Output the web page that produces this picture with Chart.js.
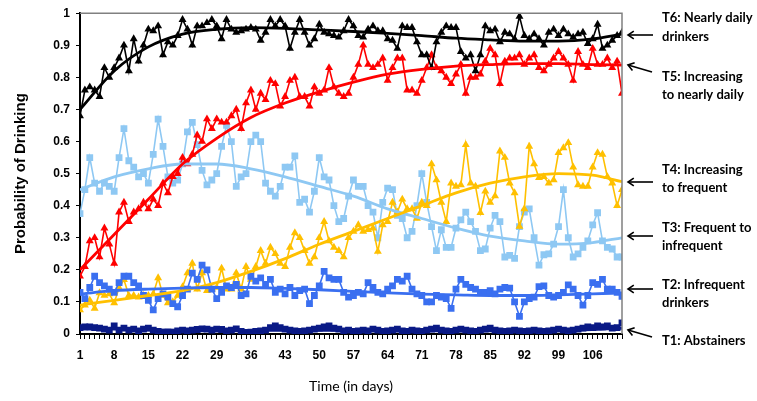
<!DOCTYPE html>
<html><head><meta charset="utf-8">
<script src="https://cdn.jsdelivr.net/npm/chart.js@4.4.1/dist/chart.umd.min.js"></script>
<style>html,body{margin:0;padding:0;background:#fff}#wrap{width:757px;height:401px}</style>
</head><body><div id="wrap"><canvas id="c" width="757" height="401"></canvas></div>
<script>
// ---- categories ----
const days = Array.from({length:112}, (_, i) => i + 1);
const tickDays = [1,8,15,22,29,36,43,50,57,64,71,78,85,92,99,106];
const yTicks = [0,0.1,0.2,0.3,0.4,0.5,0.6,0.7,0.8,0.9,1];
const trendDays = [1,8,15,22,29,36,43,50,57,64,71,78,85,92,99,106,112];

// ---- series values ----
const t6NearlyDaily = [
0.68,0.76,0.77,0.76,0.74,0.83,0.80, 0.83,0.86,0.90,0.82,0.92,0.85,0.90,
0.95,0.945,0.96,0.87,0.91,0.90,0.93, 0.98,0.95,0.90,0.96,0.96,0.97,0.98,
0.96,0.92,0.98,0.95,0.94,0.945,0.95, 0.955,0.95,0.915,0.94,0.98,0.96,0.98,
0.96,0.89,0.94,0.98,0.94,0.90,0.92, 0.965,0.94,0.935,0.93,0.925,0.945,0.98,
0.96,0.93,0.925,0.95,0.96,0.945,0.945, 0.92,0.915,0.89,0.96,0.955,0.955,0.91,
0.87,0.87,0.83,0.91,0.94,0.96,0.955, 0.955,0.88,0.86,0.87,0.82,0.87,0.96,
0.945,0.95,0.91,0.94,0.935,0.92,0.99, 0.93,0.92,0.935,0.92,0.90,0.94,0.95,
0.93,0.95,0.935,0.925,0.935,0.94,0.905, 0.92,0.965,0.89,0.90,0.915,0.93,0.94];

const t5IncDaily = [
0.18,0.21,0.29,0.30,0.24,0.33,0.28, 0.22,0.38,0.41,0.35,0.38,0.39,0.41,
0.39,0.42,0.40,0.47,0.44,0.49,0.50, 0.55,0.53,0.56,0.62,0.60,0.67,0.64,
0.67,0.66,0.66,0.68,0.70,0.64,0.72, 0.76,0.70,0.75,0.73,0.79,0.78,0.71,
0.74,0.79,0.80,0.74,0.74,0.71,0.77, 0.75,0.76,0.83,0.77,0.75,0.74,0.75,
0.80,0.84,0.90,0.84,0.83,0.84,0.86, 0.79,0.83,0.86,0.86,0.76,0.76,0.75,
0.79,0.83,0.87,0.83,0.82,0.80,0.78, 0.81,0.84,0.75,0.80,0.80,0.81,0.85,
0.89,0.87,0.78,0.85,0.86,0.86,0.87, 0.84,0.86,0.87,0.83,0.82,0.84,0.86,
0.88,0.86,0.84,0.79,0.88,0.84,0.83, 0.89,0.84,0.84,0.86,0.83,0.85,0.75];

const t4IncFrequent = [
0.075,0.09,0.105,0.08,0.128,0.12,0.125, 0.097,0.144,0.169,0.12,0.12,0.115,0.12,
0.12,0.125,0.175,0.12,0.097,0.10,0.12, 0.147,0.19,0.22,0.14,0.19,0.135,0.14,
0.145,0.205,0.14,0.14,0.19,0.14,0.21, 0.17,0.21,0.26,0.22,0.27,0.25,0.22,
0.21,0.27,0.315,0.30,0.26,0.22,0.24, 0.30,0.35,0.29,0.27,0.26,0.24,0.30,
0.32,0.34,0.32,0.325,0.33,0.257,0.34, 0.35,0.41,0.38,0.42,0.39,0.39,0.36,
0.41,0.40,0.53,0.48,0.41,0.35,0.47, 0.46,0.465,0.59,0.47,0.46,0.378,0.445,
0.41,0.43,0.57,0.55,0.47,0.44,0.335, 0.39,0.585,0.53,0.487,0.49,0.47,0.48,
0.565,0.58,0.596,0.52,0.465,0.46,0.46, 0.52,0.565,0.56,0.49,0.47,0.40,0.45];

const t3FreqToInfreq = [
0.375,0.45,0.55,0.47,0.445,0.47,0.46, 0.445,0.55,0.64,0.54,0.52,0.49,0.50,
0.47,0.56,0.67,0.585,0.49,0.47,0.48, 0.53,0.63,0.66,0.59,0.51,0.465,0.48,
0.50,0.585,0.65,0.60,0.46,0.49,0.50, 0.60,0.62,0.60,0.47,0.445,0.43,0.46,
0.52,0.52,0.555,0.41,0.42,0.38,0.445, 0.55,0.49,0.48,0.40,0.35,0.36,0.43,
0.48,0.46,0.46,0.40,0.38,0.30,0.41, 0.455,0.45,0.37,0.36,0.30,0.32,0.40,
0.50,0.41,0.335,0.26,0.325,0.27,0.27, 0.33,0.356,0.38,0.35,0.32,0.26,0.265,
0.33,0.37,0.35,0.24,0.245,0.236,0.335, 0.38,0.39,0.30,0.215,0.247,0.25,0.28,
0.335,0.45,0.30,0.24,0.25,0.27,0.29, 0.34,0.378,0.29,0.27,0.265,0.24,0.24];

const t2Infrequent = [
0.13,0.11,0.145,0.18,0.16,0.15,0.14, 0.13,0.16,0.18,0.18,0.16,0.15,0.12,
0.105,0.075,0.11,0.125,0.115,0.095,0.085, 0.12,0.14,0.19,0.17,0.215,0.20,0.14,
0.11,0.13,0.15,0.145,0.155,0.12,0.125, 0.18,0.165,0.175,0.155,0.17,0.13,0.14,
0.125,0.145,0.12,0.135,0.14,0.095,0.12, 0.15,0.195,0.175,0.17,0.17,0.13,0.115,
0.12,0.13,0.125,0.16,0.145,0.13,0.125, 0.14,0.15,0.17,0.165,0.18,0.14,0.125,
0.12,0.10,0.10,0.12,0.115,0.11,0.08, 0.14,0.17,0.155,0.145,0.14,0.13,0.13,
0.135,0.125,0.14,0.145,0.143,0.10,0.055, 0.10,0.11,0.115,0.148,0.15,0.12,0.115,
0.12,0.13,0.153,0.14,0.12,0.09,0.12, 0.16,0.155,0.17,0.14,0.14,0.13,0.117];

const t1Abstainers = [
0.02,0.022,0.022,0.02,0.018,0.015,0.012, 0.025,0.012,0.018,0.012,0.015,0.01,0.015,
0.018,0.012,0.008,0.005,0.006,0.005,0.01, 0.012,0.01,0.012,0.014,0.016,0.015,0.012,
0.015,0.014,0.01,0.012,0.016,0.008,0.005, 0.006,0.008,0.01,0.012,0.02,0.025,0.02,
0.015,0.012,0.01,0.008,0.01,0.012,0.015, 0.018,0.022,0.025,0.018,0.015,0.01,0.012,
0.008,0.01,0.012,0.01,0.015,0.012,0.008, 0.01,0.012,0.015,0.01,0.008,0.012,0.01,
0.008,0.012,0.015,0.018,0.012,0.01,0.008, 0.012,0.015,0.012,0.01,0.008,0.012,0.015,
0.018,0.012,0.01,0.008,0.01,0.012,0.01, 0.008,0.01,0.012,0.01,0.008,0.01,0.012,
0.015,0.012,0.01,0.012,0.015,0.018,0.022, 0.02,0.025,0.022,0.025,0.018,0.02,0.035];

// ---- fitted trend values at trendDays ----
const trendT6 = [0.70,0.82,0.895,0.935,0.95,0.955,0.953,0.948,0.943,0.937,0.93,0.922,0.917,0.913,0.913,0.92,0.935];
const trendT5 = [0.20,0.31,0.42,0.53,0.61,0.675,0.72,0.755,0.785,0.81,0.825,0.835,0.84,0.843,0.843,0.84,0.838];
const trendT4 = [0.09,0.105,0.12,0.135,0.16,0.195,0.235,0.28,0.32,0.36,0.40,0.44,0.47,0.49,0.50,0.495,0.475];
const trendT3 = [0.45,0.49,0.515,0.53,0.53,0.515,0.49,0.46,0.43,0.39,0.36,0.33,0.305,0.29,0.28,0.285,0.30];
const trendT2 = [0.125,0.135,0.14,0.143,0.145,0.145,0.142,0.138,0.133,0.128,0.124,0.122,0.12,0.12,0.122,0.125,0.128];
const trendT1 = [0.016,0.015,0.013,0.012,0.012,0.011,0.011,0.011,0.011,0.01,0.01,0.01,0.01,0.01,0.011,0.014,0.018];

// ---- annotation texts ----
const groupLabels = [
  ['T6: Nearly daily','drinkers'],
  ['T5: Increasing','to nearly daily'],
  ['T4: Increasing','to frequent'],
  ['T3: Frequent to','infrequent'],
  ['T2: Infrequent','drinkers'],
  ['T1: Abstainers']
];

const pts = (vals, xs) => vals.map((v, i) => ({x: xs[i], y: v}));

function series(label, vals, color, style, r) {
  return {label, data: pts(vals, days), borderColor: color, backgroundColor: color,
    borderWidth: 1.6, pointStyle: style, pointRadius: r, pointBorderWidth: 0,
    pointBackgroundColor: color, tension: 0, order: 1};
}
function trend(label, vals, color) {
  return {label, data: pts(vals, trendDays), borderColor: color, borderWidth: 2.8,
    pointRadius: 0, cubicInterpolationMode: 'monotone', fill: false, order: 0};
}

const C = {t6:'#000000', t5:'#ff0000', t4:'#ffc000', t3:'#8ec8f3', t2:'#3a6ff0', t1:'#0a1a86'};

const frame = {
  id: 'frame',
  afterDraw(chart) {
    const {ctx, chartArea: a} = chart;
    ctx.save();
    ctx.strokeStyle = '#808080'; ctx.lineWidth = 1.5;
    ctx.beginPath(); ctx.moveTo(a.left, a.top); ctx.lineTo(a.right, a.top); ctx.lineTo(a.right, a.bottom); ctx.stroke();
    // annotations
    const pos = [
      {ys:[18,37],  ar:[653,35,628,35]},
      {ys:[77,95],  ar:[652,72,628,65]},
      {ys:[170,188],ar:[653,182,628,182]},
      {ys:[228,246],ar:[653,236,628,236]},
      {ys:[285,303],ar:[653,289,628,289]},
      {ys:[341],    ar:[652,337,628,330]}
    ];
    ctx.fillStyle = '#000'; ctx.strokeStyle = '#000';
    ctx.font = 'bold 13px Lato'; ctx.textBaseline = 'middle'; ctx.textAlign = 'left';
    groupLabels.forEach((lines, i) => {
      const p = pos[i];
      lines.forEach((t, j) => ctx.fillText(t, 662, p.ys[j]));
      const [x1, y1, x2, y2] = p.ar;
      const ang = Math.atan2(y2 - y1, x2 - x1);
      ctx.lineWidth = 1.6;
      ctx.beginPath(); ctx.moveTo(x1, y1); ctx.lineTo(x2, y2); ctx.stroke();
      const h = 7;
      ctx.beginPath();
      ctx.moveTo(x2 - h*Math.cos(ang - 0.6), y2 - h*Math.sin(ang - 0.6));
      ctx.lineTo(x2, y2);
      ctx.lineTo(x2 - h*Math.cos(ang + 0.6), y2 - h*Math.sin(ang + 0.6));
      ctx.stroke();
    });
    ctx.restore();
  }
};

new Chart(document.getElementById('c'), {
  type: 'line',
  data: {datasets: [
    series('T6', t6NearlyDaily, C.t6, 'triangle', 4.6), trend('T6 trend', trendT6, C.t6),
    series('T5', t5IncDaily, C.t5, 'triangle', 4.6), trend('T5 trend', trendT5, C.t5),
    series('T2', t2Infrequent, C.t2, 'rect', 4.8), trend('T2 trend', trendT2, C.t2),
    series('T1', t1Abstainers, C.t1, 'rect', 4.8), trend('T1 trend', trendT1, C.t1),
    series('T4', t4IncFrequent, C.t4, 'triangle', 4.6), trend('T4 trend', trendT4, C.t4),
    series('T3', t3FreqToInfreq, C.t3, 'rect', 4.8), trend('T3 trend', trendT3, C.t3)
  ]},
  options: {
    responsive: false, animation: false, devicePixelRatio: 1,
    layout: {padding: {top: 13, right: 135, left: 0, bottom: 0}},
    plugins: {legend: {display: false}, tooltip: {enabled: false}},
    scales: {
      x: {
        type: 'linear', min: 1, max: 112,
        afterBuildTicks: s => { s.ticks = days.map(v => ({value: v})); },
        afterFit: s => { s.height = 67; },
        ticks: {autoSkip: false, maxRotation: 0, minRotation: 0, padding: 9, color: '#000',
          font: {family: 'Liberation Sans', weight: 'bold', size: 12},
          callback: v => tickDays.includes(v) ? String(v) : ''},
        grid: {drawOnChartArea: false, tickLength: 5, color: '#000', lineWidth: 1},
        border: {color: '#000', width: 2},
        title: {display: true, text: 'Time (in days)', color: '#000',
          font: {family: 'Lato', size: 14}, padding: {bottom: 6}}
      },
      y: {
        min: 0, max: 1,
        afterBuildTicks: s => { s.ticks = yTicks.map(v => ({value: v})); },
        afterFit: s => { s.width = 80; },
        ticks: {padding: 6, color: '#000', font: {family: 'Liberation Sans', weight: 'bold', size: 12},
          callback: v => String(Math.round(v * 10) / 10)},
        grid: {drawOnChartArea: false, tickLength: 4, color: '#000', lineWidth: 1},
        border: {color: '#000', width: 2},
        title: {display: true, text: 'Probability of Drinking', color: '#000',
          font: {family: 'Liberation Sans', weight: 'bold', size: 15}, padding: {top: 12}}
      }
    }
  },
  plugins: [frame]
});
</script></body></html>
